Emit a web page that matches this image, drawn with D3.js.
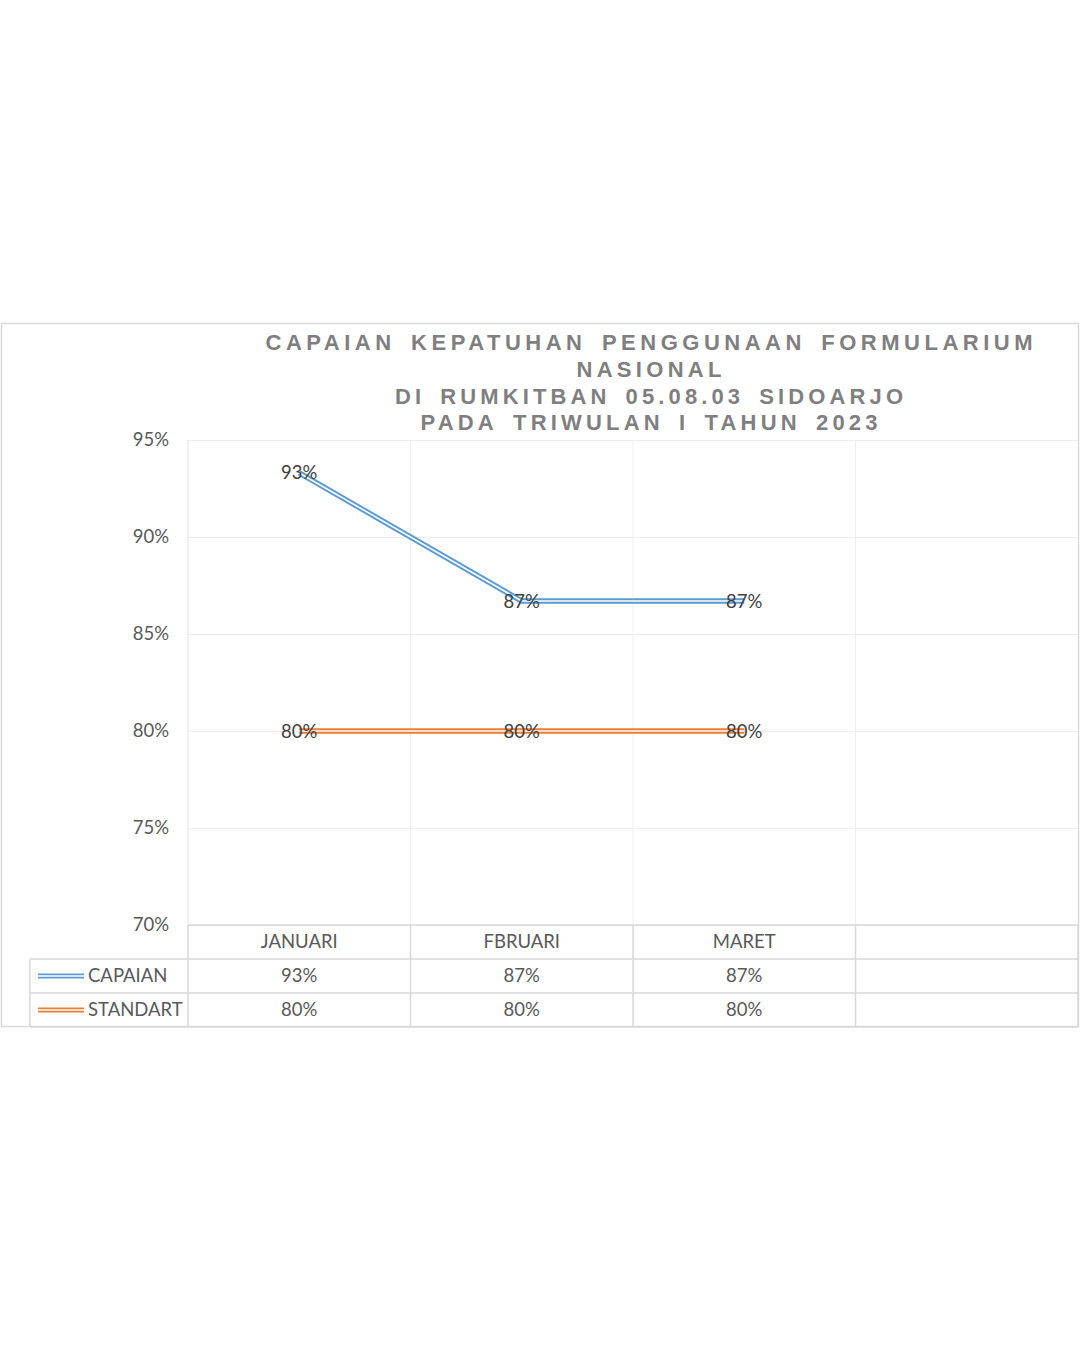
<!DOCTYPE html>
<html><head><meta charset="utf-8">
<script src="https://cdn.jsdelivr.net/npm/d3@7"></script>
<style>
html,body{margin:0;padding:0;background:#fff;}
svg{display:block;}
</style></head>
<body>
<script>
const categories = ["JANUARI", "FBRUARI", "MARET", ""];
const seriesNames = ["CAPAIAN", "STANDART"];
const capaian = [0.933, 0.867, 0.867];
const standart = [0.80, 0.80, 0.80];
const yTicks = [0.70, 0.75, 0.80, 0.85, 0.90, 0.95];
const titleLines = ["CAPAIAN KEPATUHAN PENGGUNAAN FORMULARIUM", "NASIONAL", "DI RUMKITBAN 05.08.03 SIDOARJO", "PADA TRIWULAN I TAHUN 2023"];
const titleWidths = [767, 145, 508, 457];
const colors = ["#5B9BD5", "#ED7D31"];

const W = 1080, H = 1350;
const svg = d3.select("body").append("svg").attr("width", W).attr("height", H);
svg.append("rect").attr("width", W).attr("height", H).attr("fill", "#fff");

// chart frame
svg.append("rect").attr("x", 1.5).attr("y", 323.5).attr("width", 1077).attr("height", 703)
  .attr("fill", "#fff").attr("stroke", "#d9d9d9").attr("stroke-width", 1.5);

const plotL = 188, plotR = 1078, plotT = 440, plotB = 925;
const x = d3.scaleBand().domain(categories.map((c, i) => i)).range([plotL, plotR]);
const y = d3.scaleLinear().domain([0.70, 0.95]).range([plotB, plotT]);
const font = "Lato, 'Open Sans', sans-serif";

// title (en-space between words for wider word gaps)
const title = svg.append("g")
  .attr("font-family", "'Liberation Sans Narrow', 'Arial Narrow', 'Liberation Sans', sans-serif")
  .attr("font-weight", "bold").attr("font-size", 22).attr("fill", "#7f7f7f");
titleLines.forEach((t, i) => {
  title.append("text").attr("text-anchor", "middle")
    .attr("x", 649).attr("y", 350 + i * 26.8)
    .attr("textLength", titleWidths[i]).attr("lengthAdjust", "spacing").text(t.replace(/ /g, "\u2002"));
});

// horizontal gridlines + y labels via axis
const yAxis = d3.axisLeft(y).tickValues(yTicks).tickFormat(d3.format(".0%"))
  .tickSize(-(plotR - plotL)).tickPadding(19);
const gy = svg.append("g").attr("transform", `translate(${plotL},0)`).call(yAxis);
gy.select(".domain").remove();
gy.selectAll(".tick line").attr("stroke", "#ededed").attr("stroke-width", 1);
gy.selectAll(".tick text").attr("font-family", font).attr("font-size", 18.5).attr("fill", "#595959");

// vertical gridlines (band boundaries)
const bounds = categories.map((c, i) => x(i)).concat([plotR]);
svg.append("g").selectAll("line").data(bounds.slice(1, -1)).join("line")
  .attr("x1", d => d).attr("x2", d => d).attr("y1", plotT).attr("y2", plotB)
  .attr("stroke", "#efefef").attr("stroke-width", 1);
svg.append("line").attr("x1", plotL).attr("x2", plotL).attr("y1", plotT).attr("y2", plotB)
  .attr("stroke", "#e3e3e3").attr("stroke-width", 1);

// data table
const rowH = 34;
const tableTop = plotB, tableBot = plotB + rowH * 3;
const tg = svg.append("g");
const lineC = "#d9d9d9";
[[plotL, plotB], [30, plotB + rowH], [30, plotB + rowH * 2], [30, tableBot]].forEach(([x0, yy]) => {
  tg.append("line").attr("x1", x0).attr("x2", plotR).attr("y1", yy).attr("y2", yy).attr("stroke", lineC).attr("stroke-width", 1.5);
});
bounds.forEach(b => {
  tg.append("line").attr("x1", b).attr("x2", b).attr("y1", tableTop).attr("y2", tableBot).attr("stroke", lineC).attr("stroke-width", 1.5);
});
tg.append("line").attr("x1", 30).attr("x2", 30).attr("y1", plotB + rowH).attr("y2", tableBot).attr("stroke", lineC).attr("stroke-width", 1.5);

// category labels
tg.selectAll("text.cat").data(categories).join("text").attr("class", "cat")
  .attr("x", (d, i) => x(i) + x.bandwidth() / 2).attr("y", plotB + rowH / 2 + 6)
  .attr("text-anchor", "middle").attr("font-family", font).attr("font-size", 18.5).attr("fill", "#595959")
  .text(d => d);

const allSeries = [capaian, standart];
allSeries.forEach((vals, si) => {
  const ry = plotB + rowH * (si + 1) + rowH / 2;
  tg.append("line").attr("x1", 38).attr("x2", 84).attr("y1", ry).attr("y2", ry).attr("stroke", colors[si]).attr("stroke-width", 5);
  tg.append("line").attr("x1", 38).attr("x2", 84).attr("y1", ry).attr("y2", ry).attr("stroke", "#fff").attr("stroke-width", 1.4);
  tg.append("text").attr("x", 88).attr("y", ry + 6).attr("font-family", font).attr("font-size", 18.5).attr("fill", "#595959").text(seriesNames[si]);
  tg.selectAll(null).data(vals).join("text")
    .attr("x", (d, i) => x(i) + x.bandwidth() / 2).attr("y", ry + 6)
    .attr("text-anchor", "middle").attr("font-family", font).attr("font-size", 18.5).attr("fill", "#595959")
    .text(d => d3.format(".0%")(d));
});

// lines
const line = d3.line().x((d, i) => x(i) + x.bandwidth() / 2).y(d => y(d));
const lg = svg.append("g");
allSeries.forEach((vals, si) => {
  lg.append("path").attr("d", line(vals)).attr("fill", "none").attr("stroke", colors[si]).attr("stroke-width", 5.5).attr("stroke-linejoin", "round");
  lg.append("path").attr("d", line(vals)).attr("fill", "none").attr("stroke", "#fff").attr("stroke-width", 1.6).attr("stroke-linejoin", "round");
});

// data labels
allSeries.forEach((vals, si) => {
  lg.selectAll(null).data(vals).join("text")
    .attr("x", (d, i) => x(i) + x.bandwidth() / 2).attr("y", d => y(d) + 6.5)
    .attr("text-anchor", "middle").attr("font-family", font).attr("font-size", 18.5).attr("fill", "#404040")
    .text(d => d3.format(".0%")(d));
});
</script>
</body></html>
